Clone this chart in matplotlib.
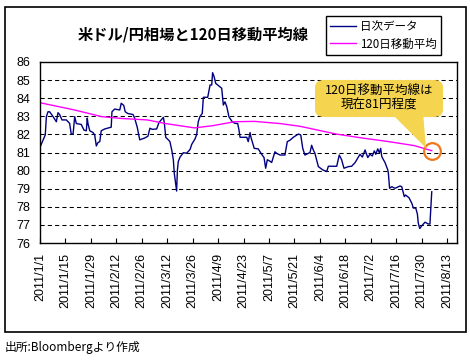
import pandas as pd
import matplotlib
matplotlib.use('Agg')
import matplotlib.pyplot as plt
from matplotlib.patches import FancyBboxPatch, Polygon, Rectangle

# USD/JPY daily (days counted from 2011-01-01)
daily_days = [0, 2.9, 3.5, 4.4, 5.3, 7.2, 9.0, 9.9, 10.8, 12.1, 14.5, 16.3, 17.2, 18.2,
              19.1, 20.0, 22.7, 24.2, 25.5, 26.0, 26.4, 27.4, 29.2, 30.1, 31.0, 31.9,
              32.9, 33.7, 35.6, 39.2, 39.6, 41.1, 43.9, 44.7, 46.1, 46.9, 48.4, 51.2,
              52.1, 53.5, 54.9, 57.6, 59.4, 60.5, 61.8, 64.2, 65.5, 67.9, 68.4, 69.2,
              70.6, 71.5, 72.5, 73.4, 73.9, 75.2, 75.6, 76.1, 77.1, 78.9, 80.7, 82.6,
              83.5, 85.3, 86.2, 87.1, 88.0, 89.3, 89.9, 92.3, 93.6, 94.5, 95.0, 95.8,
              96.7, 97.8, 100.0, 100.9, 101.8, 102.8, 104.0, 105.8, 107.3, 108.8, 109.5,
              110.1, 113.8, 114.6, 115.6, 116.1, 116.8, 117.9, 120.1, 121.1, 122.0,
              123.3, 124.2, 125.1, 126.2, 127.5, 129.3, 130.3, 132.1, 134.8, 136.1,
              137.6, 139.4, 142.2, 143.5, 144.6, 145.8, 148.6, 149.5, 150.4, 151.3,
              153.2, 155.6, 157.8, 158.7, 163.3, 164.7, 166.0, 167.3, 169.7, 171.5,
              173.4, 174.8, 176.1, 177.4, 178.9, 180.4, 181.6, 182.9, 184.0, 184.8,
              185.9, 186.8, 187.5, 188.1, 189.9, 191.3, 191.7, 192.4, 193.6, 195.4,
              198.1, 199.1, 200.5, 201.2, 203.1, 204.6, 205.5, 206.8, 207.7, 208.2,
              209.0, 210.1, 211.9, 213.7, 214.6, 215.2, 215.6]
daily_vals = [81.29, 81.97, 82.98, 83.25, 83.25, 82.98, 82.70, 83.20, 83.10, 82.80, 82.80,
              82.61, 82.02, 82.02, 82.98, 82.60, 82.55, 82.24, 82.20, 82.90, 82.60, 82.20,
              82.10, 81.97, 81.36, 81.55, 81.60, 82.20, 82.30, 82.40, 83.25, 83.40, 83.35,
              83.72, 83.60, 83.25, 83.15, 83.10, 82.90, 82.40, 81.70, 81.80, 81.90, 82.34,
              82.28, 82.30, 82.66, 82.94, 82.66, 81.84, 81.70, 81.60, 81.14, 80.59, 79.85,
              78.87, 80.00, 80.50, 80.75, 80.99, 80.96, 81.17, 81.45, 81.75, 81.98, 82.70,
              82.98, 83.16, 84.05, 84.05, 84.73, 84.73, 85.41, 85.20, 84.82, 84.73, 84.55,
              83.62, 83.80, 83.53, 82.97, 82.70, 82.61, 82.60, 82.25, 81.84, 81.84, 81.60,
              82.10, 81.84, 81.60, 81.23, 81.20, 81.04, 80.90, 80.72, 80.13, 80.60, 80.54,
              80.45, 81.04, 80.95, 80.86, 80.86, 81.60, 81.68, 81.84, 82.02, 81.97, 81.23,
              80.86, 81.00, 81.40, 81.14, 80.96, 80.22, 80.04, 79.95, 80.24, 80.24, 80.86,
              80.60, 80.13, 80.22, 80.24, 80.44, 80.68, 80.90, 80.75, 81.14, 80.72, 80.90,
              80.81, 81.09, 80.90, 81.20, 80.98, 81.23, 80.77, 80.44, 80.07, 79.89, 79.02,
              79.11, 79.02, 79.15, 79.11, 78.56, 78.65, 78.50, 78.20, 77.93, 77.93, 77.60,
              77.09, 76.80, 76.95, 77.15, 77.05, 77.05, 78.10, 78.83]

# 120-day moving average
ma_days = [0, 19, 34, 45, 59, 69, 85, 95, 107, 118, 132, 143, 163, 176, 192, 206, 215.6]
ma_vals = [83.75, 83.35, 82.98, 82.88, 82.80, 82.60, 82.36, 82.48, 82.70, 82.72, 82.60,
           82.45, 82.02, 81.82, 81.60, 81.38, 81.10]

tick_dates = pd.date_range('2011-01-01', '2011-08-13', freq='14D')

base = pd.Timestamp('2011-01-01')
d_x = base + pd.to_timedelta(daily_days, unit='D')
m_x = base + pd.to_timedelta(ma_days, unit='D')

W, H = 470, 361
jp = ['Noto Sans CJK JP', 'DejaVu Sans']
plt.rcParams['font.family'] = ['Liberation Sans', 'DejaVu Sans']

fig = plt.figure(figsize=(W / 100, H / 100), dpi=100)

def fx(px):
    return px / W

def fy(py):
    return 1 - py / H

# outer chart frame
fig.patches.append(Rectangle((fx(5), fy(332)), fx(466) - fx(5), fy(7) - fy(332),
                             transform=fig.transFigure, fill=False, lw=1.2, ec='black'))

ax = fig.add_axes([fx(40), fy(243), fx(457) - fx(40), fy(62) - fy(243)])
l1, = ax.plot(d_x, daily_vals, color='#000080', lw=1.0, label='日次データ')
l2, = ax.plot(m_x, ma_vals, color='#FF00FF', lw=1.0, label='120日移動平均')

ax.set_ylim(76, 86)
ax.set_yticks(range(76, 87))
ax.set_xlim(base, pd.Timestamp('2011-08-18 12:00'))
ax.set_xticks(tick_dates)
ax.set_xticklabels([f'{d.year}/{d.month}/{d.day}' for d in tick_dates], rotation=90)
ax.tick_params(axis='x', direction='in', length=3.6, pad=7, labelsize=9)
ax.tick_params(axis='y', length=0, pad=7, labelsize=9)
for v in range(77, 86):
    ax.axhline(v, color='black', lw=0.75, ls=(0, (4, 3)), zorder=0)
for s in ax.spines.values():
    s.set_linewidth(1.0)

# circle on the latest moving-average value
ax.plot(m_x[-1:], ma_vals[-1:], 'o', ms=12, mfc='none', mec='#F07818', mew=1.6)

# callout
fig.patches.append(Polygon([(fx(390), fy(112)), (fx(423), fy(112)), (fx(426), fy(148))],
                           closed=True, transform=fig.transFigure, fc='#F5D450', ec='none'))
fig.patches.append(FancyBboxPatch((fx(315), fy(117)), fx(443) - fx(315), fy(80) - fy(117),
                                  boxstyle='round,pad=0,rounding_size=0.02',
                                  transform=fig.transFigure, fc='#F5D450', ec='none'))
fig.text(fx(379), fy(98.5), '120日移動平均線は\n現在81円程度', ha='center', va='center',
         fontsize=9, family=jp, linespacing=1.1)

fig.text(fx(193), fy(35), '米ドル/円相場と120日移動平均線', ha='center', va='center',
         fontsize=11, family=jp, weight='bold')

fig.legend(handles=[l1, l2], loc='center', bbox_to_anchor=(fx(383.5), fy(35.5)),
           prop={'family': jp, 'size': 8.3}, frameon=True, fancybox=False,
           edgecolor='black', framealpha=1, handlelength=2.2, handletextpad=0.35,
           labelspacing=0.35, borderpad=0.4, borderaxespad=0,
           ).get_frame().set_linewidth(1.0)

fig.text(fx(5), fy(348), '出所:Bloombergより作成', ha='left', va='center',
         fontsize=8.5, family=jp)

fig.savefig('out.png', dpi=100)
